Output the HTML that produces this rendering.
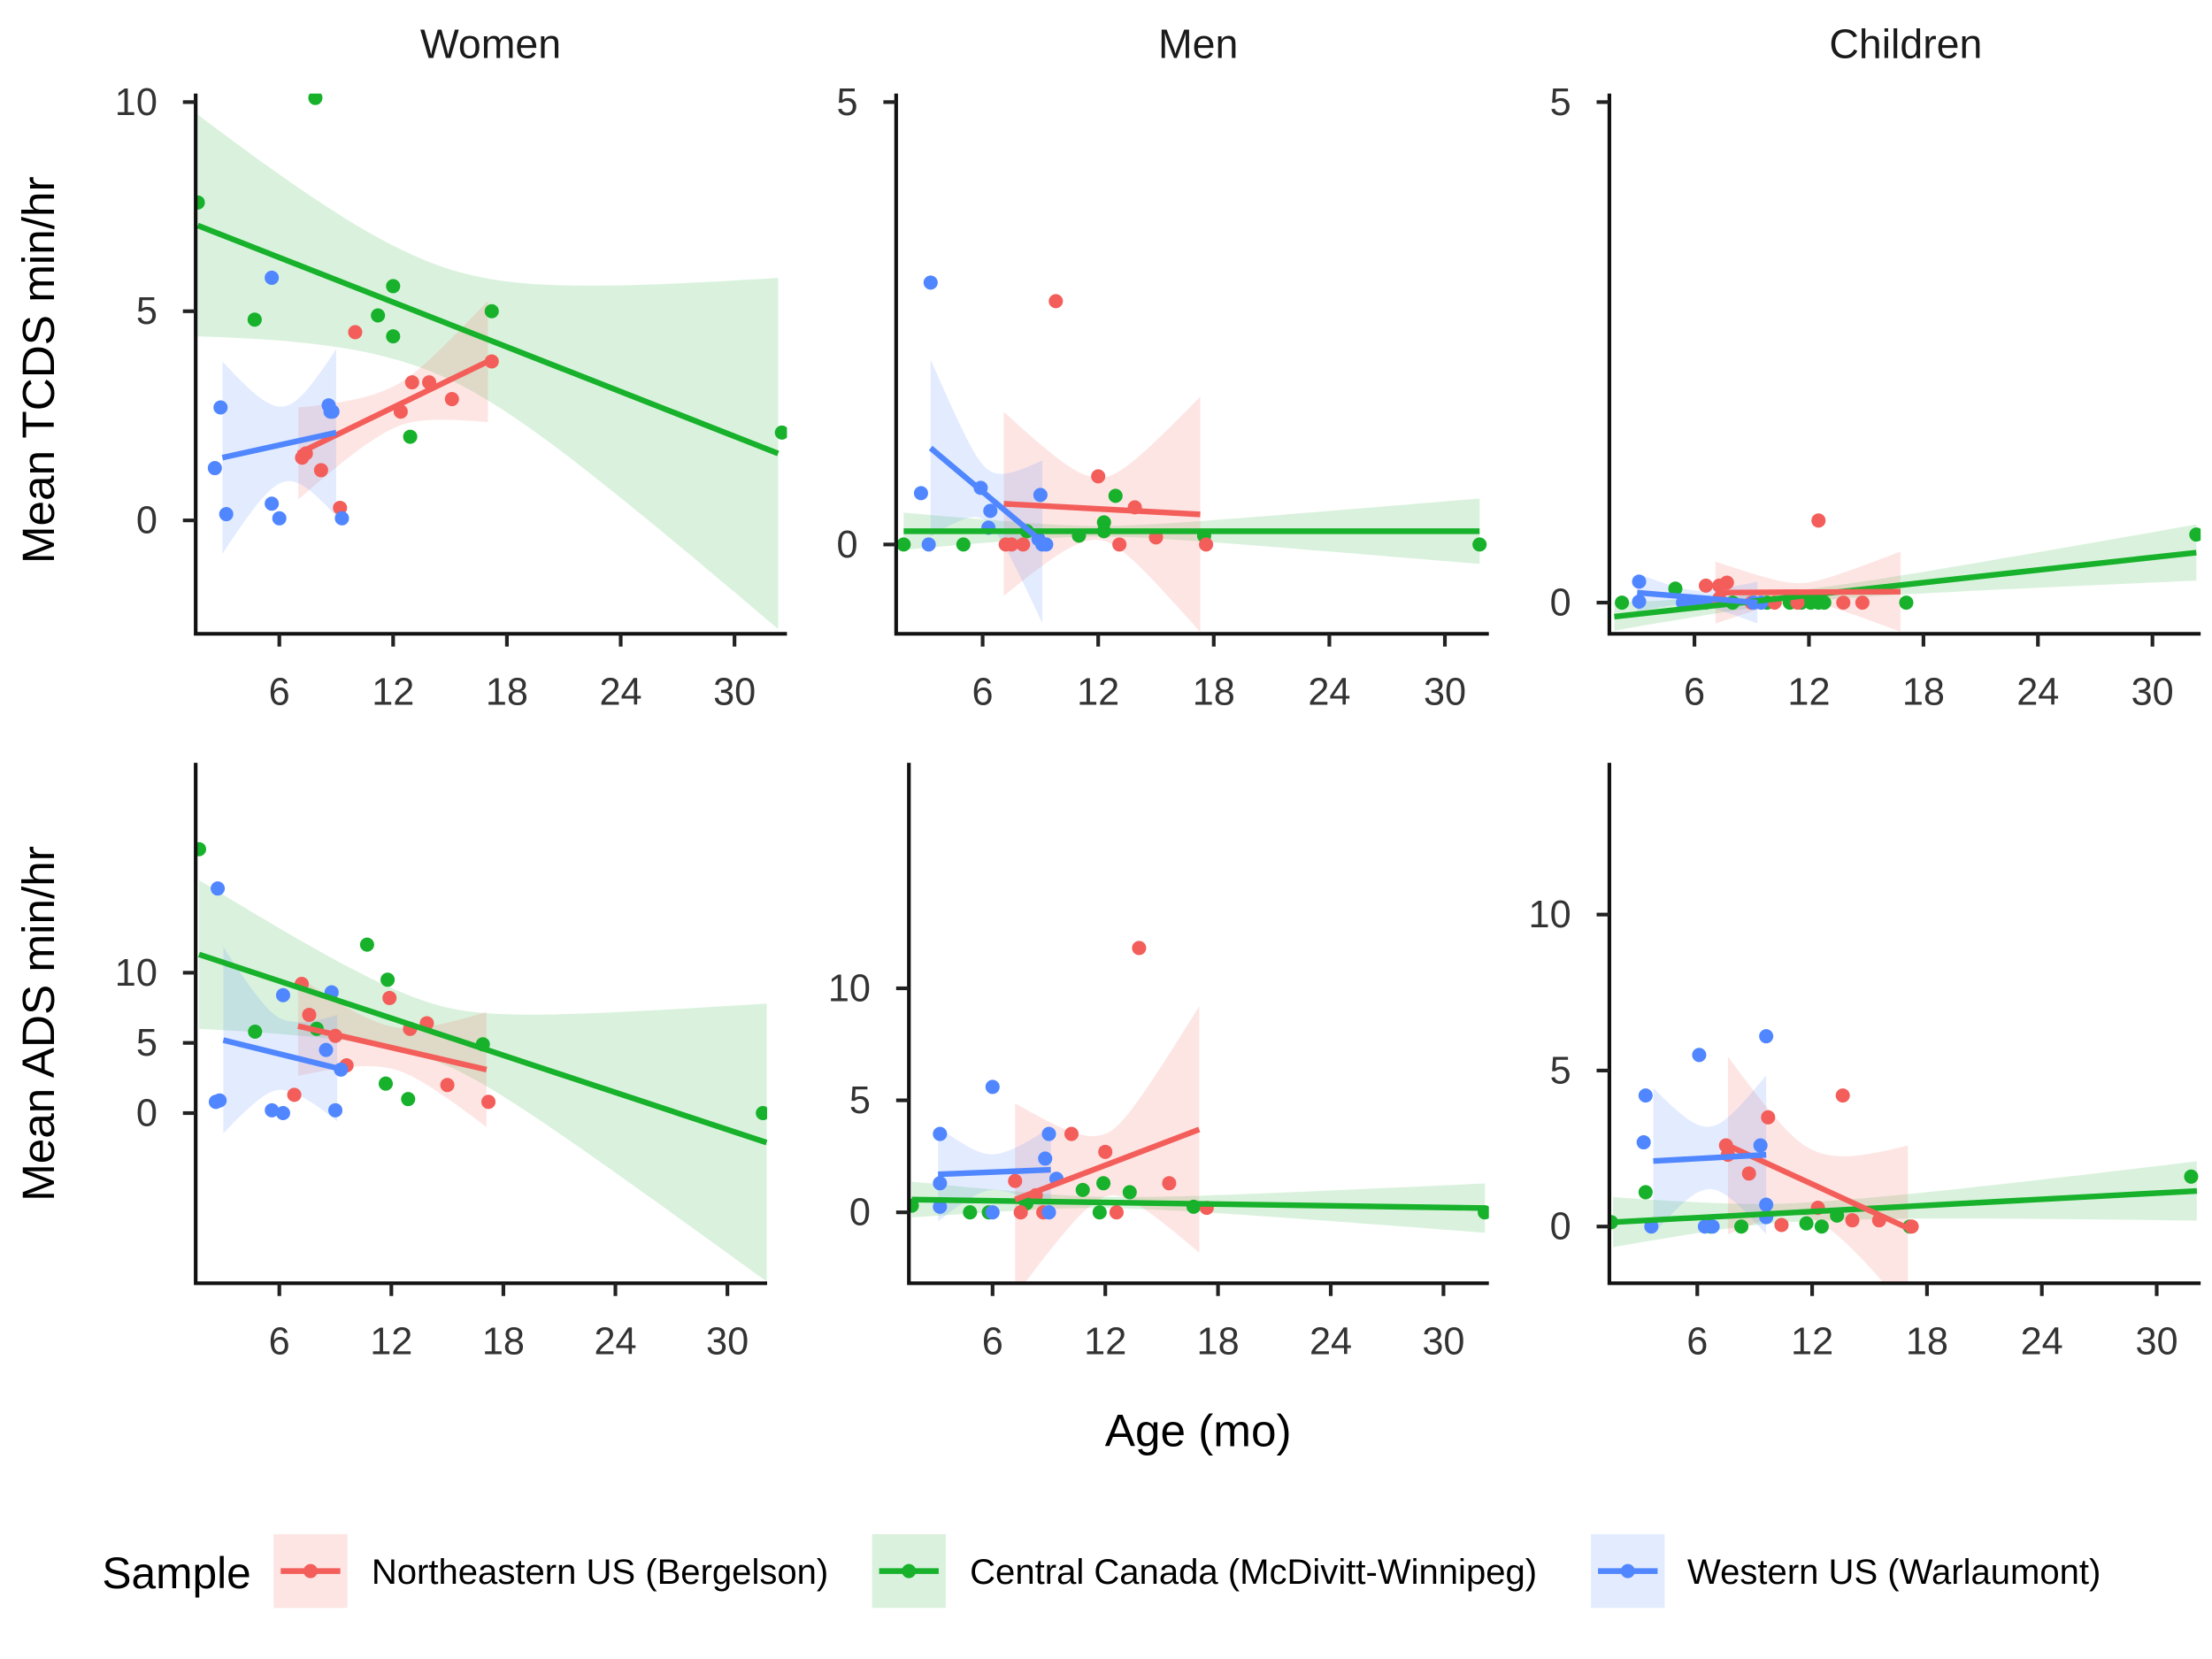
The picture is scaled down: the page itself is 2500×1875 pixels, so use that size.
<!DOCTYPE html>
<html><head><meta charset="utf-8"><style>
html,body{margin:0;padding:0;background:#fff}
svg{display:block}
text{font-family:"Liberation Sans",Arial,sans-serif}
</style></head><body>
<svg id="chart" width="2500" height="1875" viewBox="0 0 1560 1170" xmlns="http://www.w3.org/2000/svg">
<rect width="1560" height="1170" fill="#fff"/>
<text x="346" y="41" font-size="29" text-anchor="middle" fill="#1a1a1a">Women</text>
<text x="845" y="41" font-size="29" text-anchor="middle" fill="#1a1a1a">Men</text>
<text x="1344" y="41" font-size="29" text-anchor="middle" fill="#1a1a1a">Children</text>
<text transform="translate(38,261) rotate(-90)" font-size="32" text-anchor="middle" fill="#000">Mean TCDS min/hr</text>
<text transform="translate(38,722) rotate(-90)" font-size="32" text-anchor="middle" fill="#000">Mean ADS min/hr</text>
<text x="845" y="1020" font-size="32" text-anchor="middle" fill="#000">Age (mo)</text>
<g>
<text x="72" y="1120" font-size="31" fill="#000">Sample</text>
<g>
<rect x="193" y="1082" width="52" height="52" fill="#F35E5A" fill-opacity="0.16"/>
<line x1="198" y1="1108" x2="240" y2="1108" stroke="#F35E5A" stroke-width="4"/><circle cx="219" cy="1108" r="5" fill="#F35E5A"/>
<text x="262" y="1117" font-size="25" fill="#000">Northeastern US (Bergelson)</text></g>
<g>
<rect x="615" y="1082" width="52" height="52" fill="#17B12B" fill-opacity="0.16"/>
<line x1="620" y1="1108" x2="662" y2="1108" stroke="#17B12B" stroke-width="4"/><circle cx="641" cy="1108" r="5" fill="#17B12B"/>
<text x="684" y="1117" font-size="25" fill="#000">Central Canada (McDivitt-Winnipeg)</text></g>
<g>
<rect x="1122" y="1082" width="52" height="52" fill="#5086FF" fill-opacity="0.16"/>
<line x1="1127" y1="1108" x2="1169" y2="1108" stroke="#5086FF" stroke-width="4"/><circle cx="1148" cy="1108" r="5" fill="#5086FF"/>
<text x="1190" y="1117" font-size="25" fill="#000">Western US (Warlaumont)</text></g>
</g>
</svg>
<script>
// ---- data: per panel, per sample (red = Northeastern, green = Central Canada, blue = Western US)
const xTicks = [6, 12, 18, 24, 30];
const yTicksWomenTcds = [0, 5, 10];
const yTicksMenTcds = [0, 5];
const yTicksChildTcds = [0, 5];
const yTicksWomenAds = [0, 5, 10];
const yTicksMenAds = [0, 5, 10];
const yTicksChildAds = [0, 5, 10];

const wtGreenAge = [1.7, 7.9, 4.7, 11.2, 12.0, 12.0, 12.9, 17.2, 32.5];
const wtGreenVal = [7.6, 10.1, 4.8, 4.9, 5.6, 4.4, 2.0, 5.0, 2.1];
const wtRedAge = [7.2, 7.4, 8.2, 9.2, 10.0, 12.4, 13.0, 13.9, 15.1, 17.2];
const wtRedVal = [1.5, 1.6, 1.2, 0.3, 4.5, 2.6, 3.3, 3.3, 2.9, 3.8];
const wtBlueAge = [2.9, 2.6, 3.2, 5.6, 5.6, 6.0, 8.6, 8.7, 8.8, 9.3];
const wtBlueVal = [2.7, 1.25, 0.15, 5.8, 0.4, 0.05, 2.75, 2.6, 2.6, 0.05];

const mtGreenAge = [1.9, 5.0, 8.3, 11.0, 12.3, 12.3, 12.9, 17.5, 31.8];
const mtGreenVal = [0, 0, 0.15, 0.1, 0.25, 0.15, 0.55, 0.1, 0];
const mtRedAge = [7.2, 7.5, 8.1, 9.8, 12.0, 13.1, 13.9, 15.0, 17.6];
const mtRedVal = [0, 0, 0, 2.75, 0.77, 0, 0.42, 0.08, 0];
const mtBlueAge = [2.8, 3.3, 3.2, 5.9, 6.4, 6.3, 9.0, 8.9, 9.1, 9.3];
const mtBlueVal = [0.58, 2.96, 0, 0.64, 0.38, 0.19, 0.56, 0.06, 0, 0];

const ctGreenAge = [2.2, 5.0, 6.4, 8.0, 9.8, 11.0, 11.6, 12.1, 12.5, 12.8, 17.1, 32.3];
const ctGreenVal = [0, 0.14, 0, 0, 0, 0, 0, 0, 0, 0, 0, 0.68];
const ctRedAge = [6.6, 7.3, 7.7, 7.3, 9.0, 10.2, 11.4, 12.5, 13.8, 14.8];
const ctRedVal = [0.17, 0.17, 0.2, 0.04, 0, 0, 0, 0.82, 0, 0];
const ctBlueAge = [3.1, 3.1, 5.4, 5.9, 6.6, 9.1, 9.5];
const ctBlueVal = [0.21, 0.01, 0, 0, 0, 0, 0];

const waGreenAge = [1.7, 4.7, 8.0, 10.7, 11.8, 11.7, 12.9, 16.9, 31.9];
const waGreenVal = [18.8, 5.8, 6.0, 12.0, 9.5, 2.1, 1.0, 4.9, 0];
const waRedAge = [6.8, 7.2, 7.6, 9.0, 9.6, 11.9, 13.0, 13.9, 15.0, 17.2];
const waRedVal = [1.3, 9.2, 7.0, 5.5, 3.4, 8.2, 6.0, 6.4, 2.0, 0.8];
const waBlueAge = [2.7, 2.6, 2.8, 5.6, 6.2, 6.2, 8.5, 8.8, 9.0, 9.3];
const waBlueVal = [16.0, 0.8, 0.9, 0.2, 0, 8.4, 4.5, 8.6, 0.2, 3.1];

const maGreenAge = [1.7, 4.8, 5.8, 7.8, 10.8, 11.7, 11.9, 13.3, 16.7, 32.2];
const maGreenVal = [0.3, 0, 0, 0.4, 1.0, 0, 1.3, 0.9, 0.25, 0];
const maRedAge = [7.2, 7.5, 8.3, 8.7, 10.2, 12.0, 12.6, 13.8, 15.4, 17.4];
const maRedVal = [1.4, 0, 0.76, 0, 3.5, 2.7, 0, 11.8, 1.3, 0.2];
const maBlueAge = [3.2, 3.2, 3.2, 6.0, 6.0, 8.8, 9.0, 9.0, 9.4];
const maBlueVal = [3.5, 1.3, 0.25, 5.6, 0, 2.4, 3.5, 0, 1.5];

const caGreenAge = [1.5, 3.3, 6.7, 8.3, 11.7, 12.5, 13.3, 17.1, 31.8];
const caGreenVal = [0.14, 1.1, 0, 0, 0.1, 0, 0.35, 0, 1.6];
const caRedAge = [7.5, 7.6, 8.7, 9.7, 10.4, 12.3, 13.6, 14.1, 15.5, 17.2];
const caRedVal = [2.6, 2.3, 1.7, 3.5, 0.05, 0.6, 4.2, 0.2, 0.2, 0];
const caBlueAge = [3.3, 3.2, 3.6, 6.1, 6.4, 6.8, 9.3, 9.6, 9.6, 9.6];
const caBlueVal = [4.2, 2.7, 0, 5.5, 0, 0, 2.6, 6.1, 0.7, 0.3];

// fitted lines: [xStart, xEnd], [yStart, yEnd]; CI half-widths at [start, narrowest, end], narrowest x
const fits = {
  wt: { green: [[1.7, 32.3], [7.05, 1.6], [2.65, 1.3, 4.2], 14], red: [[7.0, 17.0], [1.6, 3.8], [1.1, 0.5, 1.45], 12], blue: [[3.0, 9.0], [1.5, 2.1], [2.3, 0.9, 2.0], 6.3] },
  mt: { green: [[1.9, 31.8], [0.15, 0.15], [0.21, 0.06, 0.37], 12], red: [[7.1, 17.3], [0.46, 0.34], [1.04, 0.35, 1.33], 12], blue: [[3.3, 9.1], [1.09, 0.03], [1.0, 0.3, 0.92], 6.2] },
  ct: { green: [[1.8, 32.3], [-0.14, 0.5], [0.14, 0.06, 0.28], 11], red: [[7.1, 16.8], [0.1, 0.11], [0.31, 0.09, 0.4], 11.5], blue: [[3.0, 9.3], [0.1, 0], [0.19, 0.07, 0.21], 6] },
  wa: { green: [[1.7, 32.1], [11.3, -2.1], [5.3, 2.0, 9.9], 14], red: [[7.0, 17.1], [6.2, 3.1], [3.55, 1.5, 4.1], 12], blue: [[3.0, 9.1], [5.2, 3.2], [6.65, 2.5, 3.8], 6.3] },
  ma: { green: [[1.7, 32.2], [0.57, 0.19], [0.8, 0.25, 1.1], 12], red: [[7.2, 17.0], [0.57, 3.7], [4.3, 1.4, 5.5], 12], blue: [[3.1, 9.1], [1.7, 1.9], [2.1, 0.8, 1.9], 6] },
  ca: { green: [[1.6, 32.1], [0.14, 1.14], [0.8, 0.3, 0.95], 11], red: [[7.6, 17.0], [2.6, -0.05], [2.85, 1.1, 2.65], 12], blue: [[3.7, 9.6], [2.1, 2.3], [2.35, 1.0, 2.55], 6.6] }
};

const colors = { red: "#F35E5A", green: "#17B12B", blue: "#5086FF" };
const NS = "http://www.w3.org/2000/svg";
const svg = document.getElementById("chart");

const panels = [
  { id: "wt", name: "women-tcds", L: 138, R: 555, T: 66, B: 447, x6: 197, x30: 518, y0: 367, yv: 10, yvp: 72, ticks: yTicksWomenTcds,
    pts: { green: [wtGreenAge, wtGreenVal], red: [wtRedAge, wtRedVal], blue: [wtBlueAge, wtBlueVal] } },
  { id: "mt", name: "men-tcds", L: 632, R: 1050, T: 66, B: 447, x6: 693, x30: 1019, y0: 384, yv: 5, yvp: 72, ticks: yTicksMenTcds,
    pts: { green: [mtGreenAge, mtGreenVal], red: [mtRedAge, mtRedVal], blue: [mtBlueAge, mtBlueVal] } },
  { id: "ct", name: "children-tcds", L: 1135, R: 1552, T: 66, B: 447, x6: 1195, x30: 1518, y0: 425, yv: 5, yvp: 72, ticks: yTicksChildTcds,
    pts: { green: [ctGreenAge, ctGreenVal], red: [ctRedAge, ctRedVal], blue: [ctBlueAge, ctBlueVal] } },
  { id: "wa", name: "women-ads", L: 138, R: 541, T: 538, B: 905, x6: 197, x30: 513, y0: 785, yv: 10, yvp: 686, ticks: yTicksWomenAds,
    pts: { green: [waGreenAge, waGreenVal], red: [waRedAge, waRedVal], blue: [waBlueAge, waBlueVal] } },
  { id: "ma", name: "men-ads", L: 641, R: 1050, T: 538, B: 905, x6: 700, x30: 1018, y0: 855, yv: 10, yvp: 697, ticks: yTicksMenAds,
    pts: { green: [maGreenAge, maGreenVal], red: [maRedAge, maRedVal], blue: [maBlueAge, maBlueVal] } },
  { id: "ca", name: "children-ads", L: 1135, R: 1552, T: 538, B: 905, x6: 1197, x30: 1521, y0: 865, yv: 10, yvp: 645, ticks: yTicksChildAds,
    pts: { green: [caGreenAge, caGreenVal], red: [caRedAge, caRedVal], blue: [caBlueAge, caBlueVal] } }
];

function mk(tag, attrs, parent) {
  const e = document.createElementNS(NS, tag);
  for (const k in attrs) e.setAttribute(k, attrs[k]);
  (parent || svg).appendChild(e);
  return e;
}

panels.forEach(p => {
  const sx = v => p.x6 + (v - 6) * (p.x30 - p.x6) / 24;
  const sy = v => p.y0 - v * (p.y0 - p.yvp) / p.yv;
  const g = mk("g", {});
  
  
  const clipId = "clip-" + p.id;
  const cp = mk("clipPath", { id: clipId }, g);
  mk("rect", { x: p.L, y: p.T, width: p.R - p.L, height: p.B - p.T }, cp);
  const plot = mk("g", { "clip-path": "url(#" + clipId + ")" }, g);
  const order = ["green", "red", "blue"];
  order.forEach(s => {
    const f = fits[p.id][s];
    const [xs, ys, hw, xm] = f;
    const line = x => ys[0] + (x - xs[0]) * (ys[1] - ys[0]) / (xs[1] - xs[0]);
    const a = hw[1] * hw[1];
    const bL = (hw[0] * hw[0] - a) / Math.pow(xs[0] - xm, 2);
    const bR = (hw[2] * hw[2] - a) / Math.pow(xs[1] - xm, 2);
    const half = x => Math.sqrt(a + (x < xm ? bL : bR) * (x - xm) * (x - xm));
    const N = 40, up = [], lo = [];
    for (let i = 0; i <= N; i++) {
      const x = xs[0] + (xs[1] - xs[0]) * i / N;
      up.push(sx(x).toFixed(1) + "," + sy(line(x) + half(x)).toFixed(1));
      lo.unshift(sx(x).toFixed(1) + "," + sy(line(x) - half(x)).toFixed(1));
    }
    const r = mk("polygon", { points: up.concat(lo).join(" "), fill: colors[s], "fill-opacity": 0.16 }, plot);
    
    
  });
  order.forEach(s => {
    const [ages, vals] = p.pts[s];
    ages.forEach((a, i) => {
      const c = mk("circle", { cx: sx(a), cy: sy(vals[i]), r: 5, fill: colors[s] }, plot);
      
      
    });
  });
  order.forEach(s => {
    const f = fits[p.id][s];
    const l = mk("line", { x1: sx(f[0][0]), y1: sy(f[1][0]), x2: sx(f[0][1]), y2: sy(f[1][1]), stroke: colors[s], "stroke-width": 4 }, plot);
    
    
  });
  const ax = mk("g", {}, g);
  
  
  mk("path", { d: `M${p.L},${p.T} V${p.B} H${p.R}`, fill: "none", stroke: "#111", "stroke-width": 2.6 }, ax);
  xTicks.forEach(t => {
    const x = sx(t);
    mk("line", { x1: x, y1: p.B, x2: x, y2: p.B + 9, stroke: "#222", "stroke-width": 2.6 }, ax);
    const tx = mk("text", { x: x, y: p.B + 50, "font-size": 27, "text-anchor": "middle", fill: "#333" }, ax);
    tx.textContent = t;
    
    
  });
  p.ticks.forEach(t => {
    const y = sy(t);
    mk("line", { x1: p.L - 9, y1: y, x2: p.L, y2: y, stroke: "#222", "stroke-width": 2.6 }, ax);
    const tx = mk("text", { x: p.L - 27, y: y + 9, "font-size": 27, "text-anchor": "end", fill: "#333" }, ax);
    tx.textContent = t;
    
    
  });
});
</script>
</body></html>
